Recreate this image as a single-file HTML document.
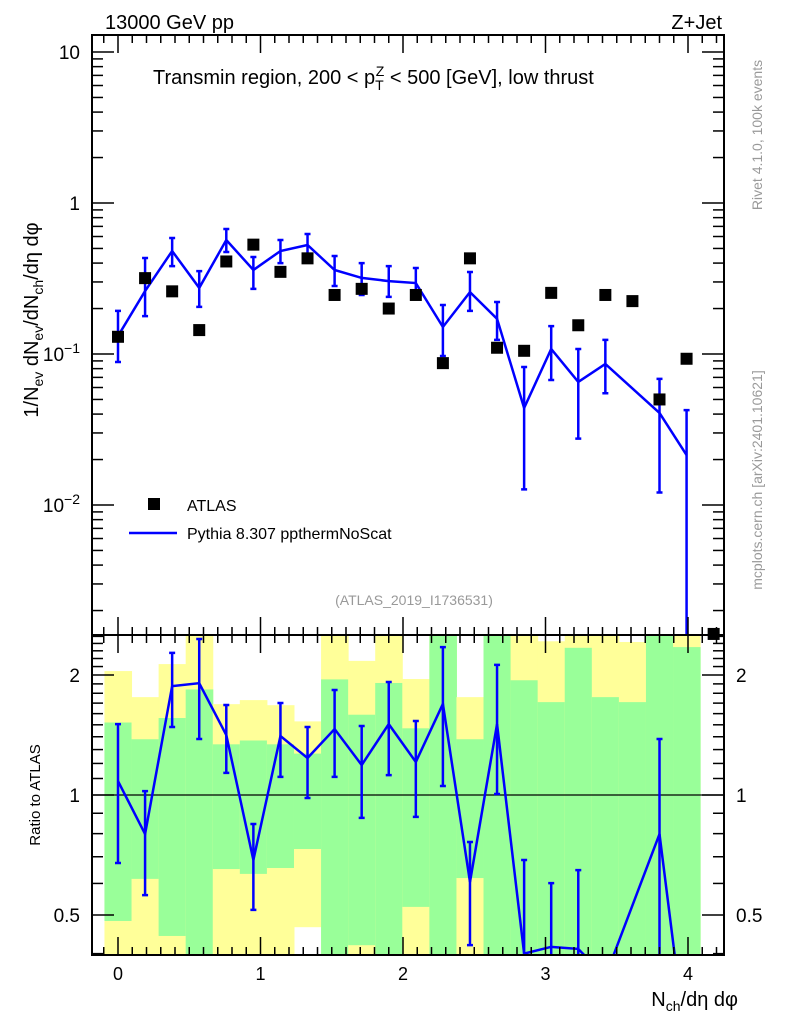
<!DOCTYPE html>
<html><head><meta charset="utf-8"><style>
html,body{margin:0;padding:0;background:#fff;}
svg{display:block;font-family:"Liberation Sans",sans-serif;}
</style></head><body>
<svg id="chart" width="786" height="1024" viewBox="0 0 786 1024" xmlns="http://www.w3.org/2000/svg">
<g id="bands"></g>
<g id="marks"></g>
<g id="axes"></g>
<text x="105" y="29" font-size="20">13000 GeV pp</text>
<text x="722" y="29" font-size="20" text-anchor="end">Z+Jet</text>
<text x="153" y="84" font-size="20">Transmin region, 200 &lt; p<tspan font-size="14" dy="6">T</tspan><tspan font-size="14" dx="-8" dy="-14">Z</tspan><tspan dy="8"> &lt; 500 [GeV], low thrust</tspan></text>
<text transform="translate(38,320) rotate(-90)" font-size="20" text-anchor="middle">1/N<tspan font-size="14" dy="5">ev</tspan><tspan dy="-5"> dN</tspan><tspan font-size="14" dy="5">ev</tspan><tspan dy="-5">/dN</tspan><tspan font-size="14" dy="5">ch</tspan><tspan dy="-5">/dη dφ</tspan></text>
<text transform="translate(40,795) rotate(-90)" font-size="15" text-anchor="middle">Ratio to ATLAS</text>
<text x="738" y="1006" font-size="20" text-anchor="end">N<tspan font-size="14" dy="5">ch</tspan><tspan dy="-5">/dη dφ</tspan></text>
<text transform="translate(762,135) rotate(-90)" font-size="14" fill="#999" text-anchor="middle">Rivet 4.1.0,  100k events</text>
<text transform="translate(762,480) rotate(-90)" font-size="14" fill="#999" text-anchor="middle">mcplots.cern.ch [arXiv:2401.10621]</text>
<text x="414" y="605" font-size="14" fill="#999" text-anchor="middle">(ATLAS_2019_I1736531)</text>
<rect x="148" y="498" width="12" height="12" fill="#000"/>
<text x="187" y="511" font-size="16">ATLAS</text>
<line x1="129" y1="533" x2="177" y2="533" stroke="#00f" stroke-width="2.5"/>
<text x="187" y="539" font-size="16">Pythia 8.307 ppthermNoScat</text>
</svg>
<script>
const xs = [0,0.19,0.38,0.57,0.76,0.95,1.14,1.33,1.52,1.71,1.9,2.09,2.28,2.47,2.66,2.85,3.04,3.23,3.42,3.61,3.8,3.99,4.18];
const atlas = [0.13,0.318,0.26,0.144,0.41,0.53,0.35,0.43,0.246,0.27,0.20,0.246,0.087,0.43,0.11,0.105,0.254,0.155,0.246,0.224,0.05,0.093,0.0014];
const mc = [0.1316,0.261,0.481,0.274,0.569,0.360,0.481,0.527,0.360,0.319,0.304,0.295,0.151,0.257,0.171,0.0439,0.108,0.0653,0.0859,null,0.0407,0.0214,null];
const mcHi = [0.193,0.432,0.586,0.354,0.673,0.439,0.569,0.623,0.446,0.40,0.382,0.371,0.211,0.349,0.221,0.082,0.153,0.108,0.124,null,0.0684,0.0425,null];
const mcLo = [0.0885,0.178,0.382,0.205,0.474,0.27,0.40,0.439,0.282,0.246,0.239,0.235,0.097,0.193,0.124,0.0127,0.0673,0.0275,0.055,null,0.0121,0.0013,null];
const ratio = [1.084,0.798,1.876,1.908,1.414,0.687,1.406,1.238,1.464,1.189,1.506,1.210,1.692,0.605,1.506,0.40,0.416,0.411,0.35,null,0.798,0.23];
const ratioHi = [1.506,1.023,2.272,2.462,1.682,0.846,1.701,1.481,1.834,1.490,1.921,1.533,2.35,0.762,2.120,0.687,0.601,0.648,null,null,1.382,null];
const ratioLo = [0.675,0.561,1.481,1.382,1.136,0.515,1.110,0.983,1.110,0.876,1.122,0.881,1.053,0.42,1.006,0.3,0.3,0.3,null,null,0.3,null];
const yelTop = [2.046,1.76,2.13,3,1.69,1.73,1.68,1.53,3,2.17,3,1.954,3,1.76,3,3,2.43,3,3,2.42,3,3];
const grnTop = [1.52,1.38,1.56,1.84,1.34,1.37,1.34,1.27,1.95,1.59,1.91,1.47,3,1.38,3,1.94,1.71,2.34,1.76,1.71,3,2.35];
const grnBot = [0.483,0.616,0.443,0.3,0.652,0.634,0.656,0.732,0.3,0.42,0.3,0.524,0.3,0.619,0.3,0.3,0.3,0.3,0.3,0.3,0.3,0.3];
const yelBot = [0.3,0.3,0.3,0.3,0.3,0.3,0.3,0.466,0.3,0.3,0.3,0.3,0.3,0.3,0.3,0.3,0.3,0.3,0.3,0.3,0.3,0.3];
const xTicks = [0,1,2,3,4];
const yTicks = [10,1,0.1,0.01];
const yTickLabels = ["10","1","10^-1","10^-2"];
const rTicks = [0.5,1,2];
const rTickLabels = ["0.5","1","2"];

const L=92,R=724,T=35,MID=635,B=955;
const X0=118,PX=142.5,BW=0.19;
const sx=v=>X0+v*PX;
const sy=v=>203-151*Math.log10(v);
const sr=v=>795-120*Math.log2(v);
const NS='http://www.w3.org/2000/svg';
function mk(tag,attrs,parent){const e=document.createElementNS(NS,tag);for(const k in attrs)e.setAttribute(k,attrs[k]);parent.appendChild(e);return e;}
const bands=document.getElementById('bands'),marks=document.getElementById('marks'),axes=document.getElementById('axes');
const clipR=v=>Math.max(MID,Math.min(B,v));
for(let i=0;i<yelTop.length;i++){
  const x1=sx(xs[i]-BW/2),x2=sx(xs[i]+BW/2);
  const yt=clipR(sr(yelTop[i])),gt=clipR(sr(grnTop[i])),gb=clipR(sr(grnBot[i])),yb=clipR(sr(yelBot[i]));
  const y1=mk('rect',{x:x1,y:yt,width:x2-x1+0.5,height:yb-yt,fill:'#ffff99'},bands);
  
  
  const g1=mk('rect',{x:x1,y:gt,width:x2-x1+0.5,height:gb-gt,fill:'#99ff99'},bands);
  
  
}
mk('line',{x1:L,y1:sr(1),x2:R,y2:sr(1),stroke:'#000','stroke-width':1.2},bands);
const clipM=v=>Math.max(T,Math.min(MID,v));
let pts=[];
for(let i=0;i<mc.length;i++){if(mc[i]!=null)pts.push(sx(xs[i])+','+clipM(sy(mc[i])));}
const ml=mk('polyline',{points:pts.join(' '),fill:'none',stroke:'#00f','stroke-width':2.5},marks);


for(let i=0;i<mc.length;i++){
  if(mcHi[i]==null)continue;
  const x=sx(xs[i]),a=clipM(sy(mcHi[i])),b=clipM(sy(mcLo[i]));
  const eb=mk('path',{d:`M${x},${a}V${b}M${x-3},${a}H${x+3}`+(b<MID?`M${x-3},${b}H${x+3}`:''),stroke:'#00f','stroke-width':2.5,fill:'none'},marks);
  
  
}
for(let i=0;i<atlas.length;i++){
  const x=sx(xs[i]),y=clipM(sy(atlas[i]));
  const m=mk('rect',{x:x-6,y:y-6,width:12,height:12,fill:'#000'},marks);
  
  
}
let rp=[];
for(let i=0;i<ratio.length;i++){if(ratio[i]!=null)rp.push(sx(xs[i])+','+sr(ratio[i]));}
const cp=mk('clipPath',{id:'rc'},marks);mk('rect',{x:L,y:MID,width:R-L,height:B-MID},cp);
const rl=mk('polyline',{points:rp.join(' '),fill:'none',stroke:'#00f','stroke-width':2.5,'clip-path':'url(#rc)'},marks);


for(let i=0;i<ratio.length;i++){
  if(ratioHi[i]==null)continue;
  const x=sx(xs[i]),a=clipR(sr(ratioHi[i])),b=clipR(sr(ratioLo[i]));
  const eb=mk('path',{d:`M${x},${a}V${b}M${x-3},${a}H${x+3}`+(b<B?`M${x-3},${b}H${x+3}`:''),stroke:'#00f','stroke-width':2.5,fill:'none'},marks);
  
  
}
for(const [y1,y2] of [[T,MID],[MID,B]]){
  const f=mk('rect',{x:L,y:y1,width:R-L,height:y2-y1,fill:'none',stroke:'#000','stroke-width':2},axes);
  
  
}
for(let k=-1;k<=42;k++){
  const v=k*0.1,x=sx(v);if(x<L||x>R)continue;
  const len=(k%10===0)?18:8;
  for(const [y,d] of [[T,1],[MID,-1],[MID,1],[B,-1]]) mk('line',{x1:x,y1:y,x2:x,y2:y+d*len,stroke:'#000','stroke-width':1.5},axes);
}
xTicks.forEach(v=>{const t=mk('text',{x:sx(v),y:980,'font-size':18,'text-anchor':'middle'},axes);t.textContent=v;

});
for(let e=-3;e<=1;e++)for(let m=1;m<=9;m++){
  const v=m*Math.pow(10,e),y=sy(v);if(y<T||y>MID)continue;
  const len=m===1?22:11;
  mk('line',{x1:L,y1:y,x2:L+len,y2:y,stroke:'#000','stroke-width':1.5},axes);
  mk('line',{x1:R,y1:y,x2:R-len,y2:y,stroke:'#000','stroke-width':1.5},axes);
}
yTicks.forEach((v,i)=>{
  const lab=yTickLabels[i];const t=mk('text',{x:80,y:sy(v)+7,'font-size':19,'text-anchor':'end'},axes);
  
  
  if(lab.includes('^')){const [b,ex]=lab.split('^');t.textContent=b;const s=mk('tspan',{'font-size':14,dy:-8},t);s.textContent=ex.replace('-','\u2212');}
  else t.textContent=lab;
});
for(let k=4;k<=25;k++){
  const vv=k/10,y=sr(vv);if(y<MID||y>B)continue;
  const len=(k===5||k===10||k===20)?22:11;
  mk('line',{x1:L,y1:y,x2:L+len,y2:y,stroke:'#000','stroke-width':1.5},axes);
  mk('line',{x1:R,y1:y,x2:R-len,y2:y,stroke:'#000','stroke-width':1.5},axes);
}
rTicks.forEach((v,i)=>{
  const t=mk('text',{x:80,y:sr(v)+7,'font-size':19,'text-anchor':'end'},axes);t.textContent=rTickLabels[i];
  
  
  const t2=mk('text',{x:736,y:sr(v)+7,'font-size':19},axes);t2.textContent=rTickLabels[i];
  
  
});
</script>
</body></html>
